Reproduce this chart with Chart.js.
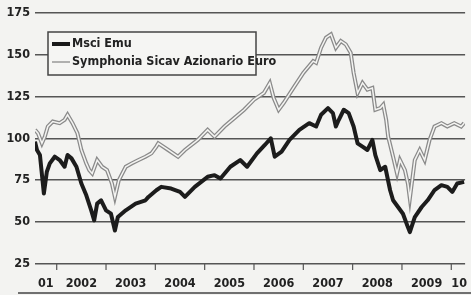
<!DOCTYPE html>
<html><head><meta charset="utf-8">
<script src="https://cdn.jsdelivr.net/npm/chart.js@4/dist/chart.umd.min.js"></script>
<style>
html,body{margin:0;padding:0;background:#f3f3f1;}
#wrap{position:relative;width:471px;height:295px;}
</style></head>
<body><div id="wrap"><canvas id="c" width="471" height="295"></canvas></div>
<script>
// Decimal-year dates and values
const msciDates = [2001.56,2001.60,2001.66,2001.74,2001.80,2001.86,2001.96,2002.06,2002.16,2002.22,2002.30,2002.40,2002.50,2002.60,2002.70,2002.76,2002.82,2002.90,2003.00,2003.10,2003.18,2003.24,2003.40,2003.60,2003.80,2003.86,2004.02,2004.12,2004.32,2004.50,2004.60,2004.80,2005.06,2005.20,2005.32,2005.52,2005.72,2005.86,2006.06,2006.22,2006.34,2006.42,2006.56,2006.72,2006.92,2007.12,2007.26,2007.36,2007.50,2007.60,2007.66,2007.72,2007.82,2007.92,2008.02,2008.10,2008.20,2008.30,2008.40,2008.46,2008.56,2008.66,2008.76,2008.82,2008.92,2009.02,2009.12,2009.16,2009.26,2009.40,2009.52,2009.66,2009.80,2009.92,2010.02,2010.12,2010.26];
const msciValues = [98,93,90,67,80,85,89,87,83,90,88,83,73,66,57,51,61,63,57,55,45,53,57,61,63,65,69,71,70,68,65,71,77,78,76,83,87,83,91,96,100,89,92,99,105,109,107,114,118,115,107,111,117,115,107,97,95,93,99,90,81,83,69,63,59,55,47,44,53,59,63,69,72,71,68,73,74];
const symDates = [2001.56,2001.62,2001.70,2001.76,2001.82,2001.92,2002.06,2002.16,2002.22,2002.32,2002.42,2002.50,2002.60,2002.66,2002.72,2002.82,2002.92,2003.02,2003.12,2003.18,2003.26,2003.40,2003.52,2003.66,2003.80,2003.92,2004.02,2004.06,2004.26,2004.46,2004.60,2004.86,2005.06,2005.20,2005.40,2005.60,2005.80,2006.00,2006.20,2006.32,2006.40,2006.50,2006.60,2006.80,2007.00,2007.20,2007.26,2007.36,2007.46,2007.56,2007.66,2007.76,2007.86,2007.96,2008.02,2008.10,2008.20,2008.30,2008.40,2008.46,2008.56,2008.62,2008.68,2008.72,2008.82,2008.90,2008.96,2009.06,2009.12,2009.16,2009.26,2009.36,2009.46,2009.56,2009.66,2009.80,2009.92,2010.06,2010.20,2010.26];
const symValues = [105,103,97,101,107,110,109,111,114,109,103,93,85,81,79,87,83,81,73,65,75,83,85,87,89,91,95,97,93,89,93,99,105,101,107,112,117,123,127,133,124,117,121,130,139,146,145,154,160,162,154,158,156,151,139,127,133,129,130,117,118,120,111,101,89,79,87,81,73,64,87,93,87,99,107,109,107,109,107,109];
const seriesNames = ["Msci Emu","Symphonia Sicav Azionario Euro"];
const yTicks = [25,50,75,100,125,150,175];
const yearTicks = [2002,2003,2004,2005,2006,2007,2008,2009,2010];
const xLabelPos = [2001.78,2002.5,2003.5,2004.5,2005.5,2006.5,2007.5,2008.5,2009.5,2010.16];
const xLabels = ["01","2002","2003","2004","2005","2006","2007","2008","2009","10"];

const FONT = "'Liberation Sans Narrow','DejaVu Sans Condensed',sans-serif";
const pts = (d,v)=>d.map((x,i)=>({x:x,y:v[i]}));

const bgPlugin = {
  id:'bg',
  beforeDraw(chart){
    const c=chart.ctx; c.save(); c.fillStyle='#f3f3f1'; c.fillRect(0,0,chart.width,chart.height); c.restore();
  },
  afterDraw(chart){
    const c=chart.ctx, xs=chart.scales.x, ys=chart.scales.y;
    c.save();
    c.strokeStyle='#555'; c.lineWidth=1.2;
    const yb=ys.getPixelForValue(25);
    yearTicks.forEach(t=>{const px=xs.getPixelForValue(t); c.beginPath(); c.moveTo(px,yb); c.lineTo(px,yb+6); c.stroke();});
    c.strokeStyle='#444'; c.lineWidth=1.3;
    c.beginPath(); c.moveTo(18,293); c.lineTo(471,293); c.stroke();
    const bx=48,by=32,bw=208,bh=43;
    c.fillStyle='#f5f5f3'; c.fillRect(bx,by,bw,bh);
    c.strokeStyle='#444'; c.lineWidth=1.5; c.strokeRect(bx,by,bw,bh);
    c.font="bold 12.5px "+FONT; c.textBaseline='middle'; c.fillStyle='#222';
    c.strokeStyle='#1a1a1a'; c.lineWidth=4; c.beginPath(); c.moveTo(52,44); c.lineTo(70,44); c.stroke();
    c.fillText(seriesNames[0],72,44);
    c.strokeStyle='#999'; c.lineWidth=1.5; c.beginPath(); c.moveTo(52,62); c.lineTo(70,62); c.stroke();
    c.fillText(seriesNames[1],72,62);
    c.restore();
  }
};

new Chart(document.getElementById('c'),{
  type:'line',
  data:{datasets:[
    {label:seriesNames[0],order:1,data:pts(msciDates,msciValues),borderColor:'#1c1c1c',borderWidth:4,pointRadius:0,tension:0,fill:false,borderJoinStyle:'round'},
    {label:seriesNames[1],order:2,data:pts(symDates,symValues),borderColor:'#f4f4f2',borderWidth:1.5,pointRadius:0,tension:0,fill:false},
    {label:seriesNames[1]+' outer',order:3,data:pts(symDates,symValues),borderColor:'#8a8a8a',borderWidth:4,pointRadius:0,tension:0,fill:false}
  ]},
  options:{
    responsive:false,animation:false,
    layout:{padding:{top:12,right:0,bottom:0,left:0}},
    plugins:{legend:{display:false},tooltip:{enabled:false}},
    scales:{
      x:{type:'linear',min:2001.56,max:2010.28,
        afterBuildTicks(s){s.ticks=xLabelPos.map(v=>({value:v}));},
        afterFit(s){s.height=31;},
        ticks:{autoSkip:false,maxRotation:0,padding:4,color:'#222',font:{family:FONT,weight:'bold',size:12.5},
          callback:(v,i)=>xLabels[i]},
        grid:{display:false},border:{display:false}},
      y:{min:25,max:175,
        afterBuildTicks(s){s.ticks=yTicks.map(v=>({value:v}));},
        afterFit(s){s.width=35;},
        ticks:{padding:5,color:'#222',font:{family:FONT,weight:'bold',size:12.5}},
        grid:{color:'#555',lineWidth:1.4,drawTicks:false},border:{display:false}}
    }
  },
  plugins:[bgPlugin]
});
</script></body></html>
